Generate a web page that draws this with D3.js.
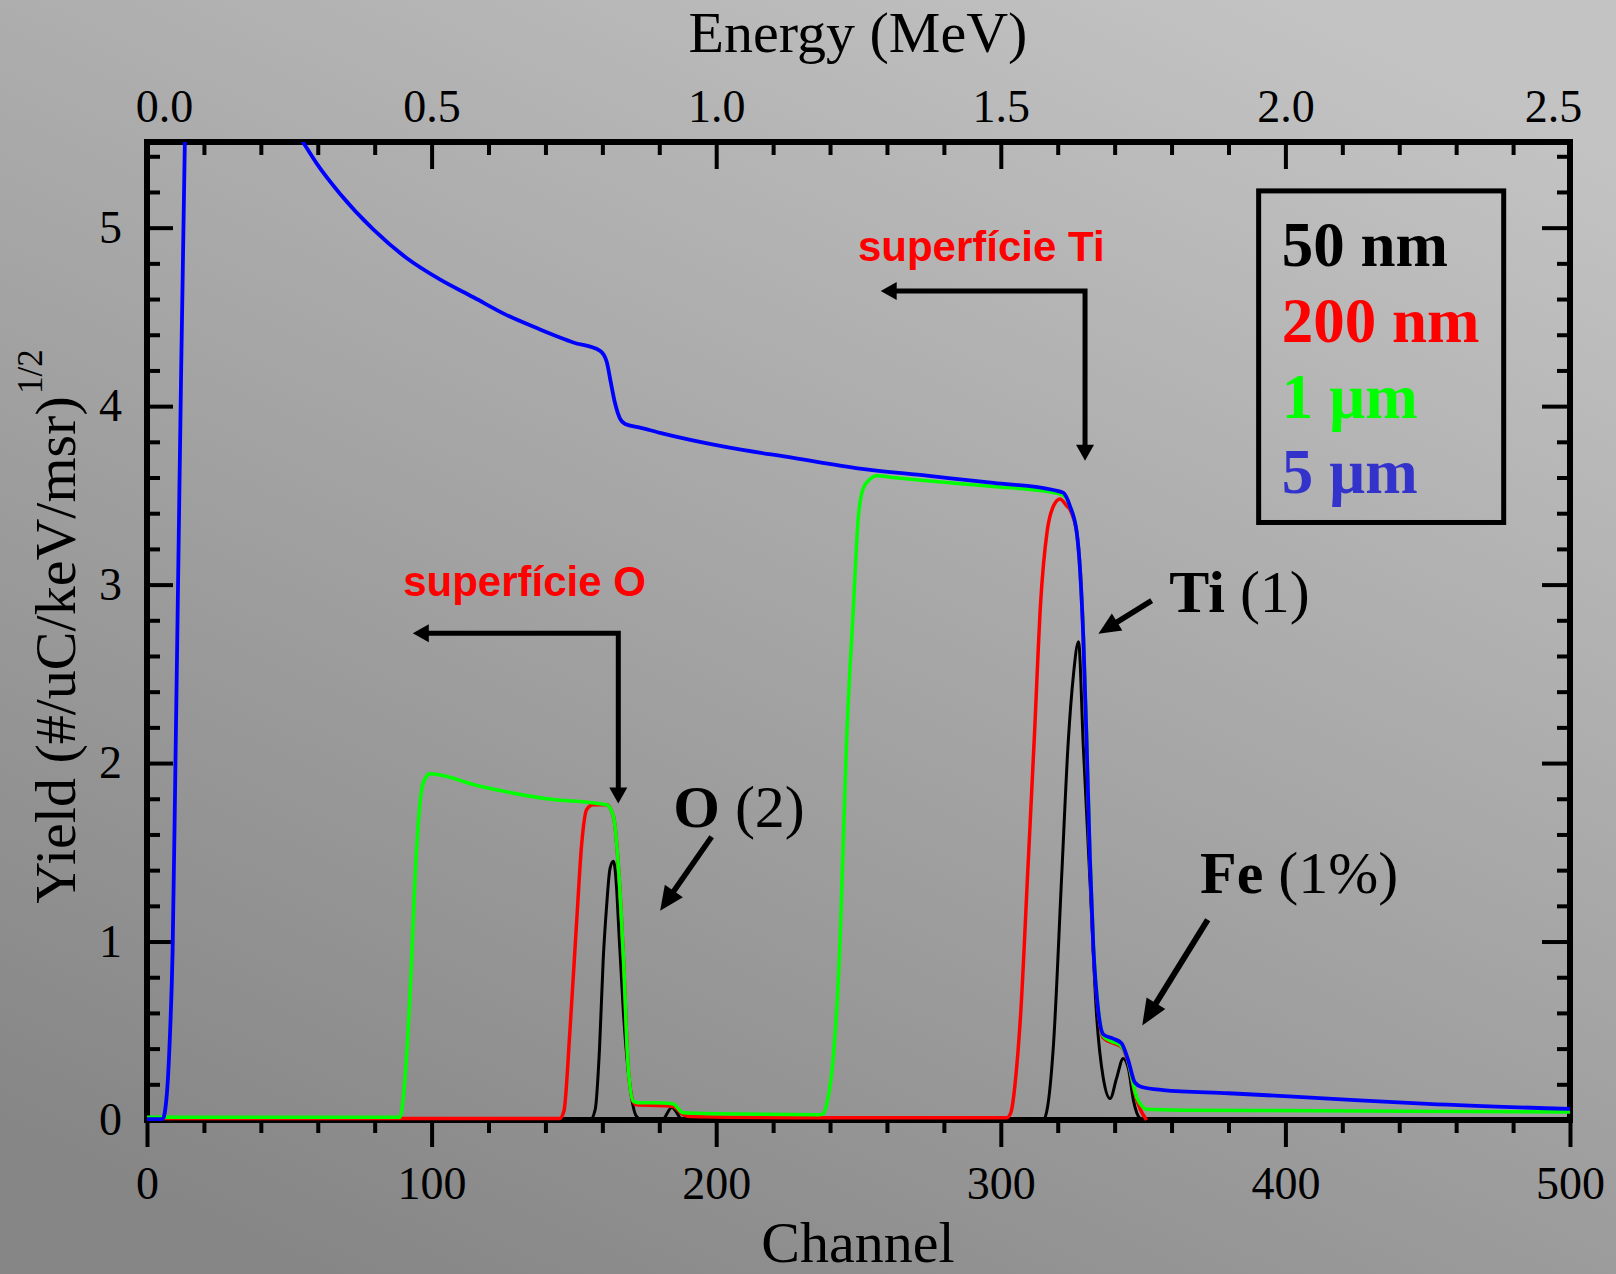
<!DOCTYPE html>
<html><head><meta charset="utf-8">
<script src="https://cdn.jsdelivr.net/npm/d3@7"></script>
<style>html,body{margin:0;padding:0;overflow:hidden;background:#a8a8a8}svg{display:block}</style>
</head><body><svg id="c" width="1616" height="1274"></svg>
<script>
// ---------- data ----------
const channelTicks = [0, 100, 200, 300, 400, 500];
const energyTicks = [0.0, 0.5, 1.0, 1.5, 2.0, 2.5];
const yieldTicks = [0, 1, 2, 3, 4, 5];
const legendLabels = ["50 nm", "200 nm", "1 \u00b5m", "5 \u00b5m"];
const lineColors = ["#000000", "#ff0000", "#00ff00", "#0000ff"];
const legendColors = ["#000000", "#ff0000", "#00ff00", "#3333cc"];

// [channel, yield]
const series50nm = [[0,0],[150,0],[155.7,0],[157.5,0.06],[159,0.4],[160.3,0.9],[161.5,1.2],[162.7,1.41],[163.9,1.45],[165,1.3],[165.6,1.12],[167.4,0.6],[169.7,0.19],[172,0.02],[174,0],[181,0],[184.4,0.07],[188.3,0],[200,0],[314.9,0],[316.5,0.08],[318.5,0.42],[321.4,1.37],[323.7,2.12],[325.5,2.49],[327.3,2.68],[329,2.09],[331.3,1.35],[333.6,0.6],[336,0.235],[338.4,0.12],[340.7,0.235],[343,0.345],[344.8,0.29],[346.6,0.11],[348.9,0.01],[351,0]];
const series200nm = [[0,0.008],[145,0.008],[146.5,0.05],[148.6,0.5],[151,1.12],[152.7,1.54],[154.5,1.74],[156.8,1.766],[161.5,1.766],[163.9,1.70],[165.6,1.43],[167.4,0.91],[169.1,0.29],[170.9,0.1],[172,0.085],[181.4,0.08],[184.9,0.075],[188.4,0.03],[190.8,0.02],[240,0.012],[302,0.012],[303.5,0.04],[305.6,0.3],[307,0.6],[309.5,1.4],[311.8,2.15],[314,2.9],[316.3,3.3],[318.5,3.44],[320.8,3.48],[323.2,3.44],[324.3,3.42],[326.7,3.29],[327.9,3.07],[329,2.70],[330.2,2.09],[331.3,1.47],[332.5,0.975],[334.3,0.6],[336,0.46],[339.5,0.43],[342.4,0.41],[344.8,0.32],[347.1,0.15],[349,0.06],[351.2,0]];
const series1um = [[0,0.015],[88.9,0.015],[90.5,0.2],[92.4,0.7],[94.8,1.54],[96.5,1.85],[98,1.92],[99.4,1.94],[117,1.87],[140.4,1.80],[161.5,1.766],[163.9,1.70],[165.6,1.43],[167.4,0.91],[169.1,0.29],[170.9,0.105],[172.5,0.097],[181.4,0.095],[184.9,0.09],[188.4,0.04],[199,0.035],[236.5,0.03],[237.6,0.035],[239,0.1],[241.2,0.36],[243.5,0.99],[245.8,2.12],[248.2,2.87],[249.9,3.37],[251.7,3.54],[254,3.59],[256.4,3.61],[262.2,3.60],[275,3.58],[297.4,3.55],[318.5,3.516],[321.9,3.5],[324.3,3.44],[326.7,3.29],[327.9,3.07],[329,2.72],[330.2,2.12],[331.3,1.5],[332.5,1.0],[334.3,0.62],[336,0.47],[339,0.44],[341.9,0.42],[344.2,0.36],[347.7,0.13],[349.5,0.08],[351.2,0.06],[363,0.055],[412,0.052],[500,0.045]];
const series5um = [[0,0.005],[5.5,0.005],[7,0.15],[8,0.45],[9,0.95],[10,2.0],[11,3.1],[12,4.2],[13.3,5.48],[14,6.3],[18,7.0],[25,6.7],[35,6.1],[45,5.72],[54.4,5.49],[59.6,5.36],[67.8,5.19],[79.5,4.99],[91.2,4.83],[102.9,4.71],[114.7,4.61],[126.4,4.51],[138.1,4.43],[145.1,4.385],[149.8,4.357],[159.2,4.31],[161.5,4.25],[163,4.13],[164.4,4.02],[166.2,3.93],[168,3.9],[173.2,3.88],[180.3,3.85],[203.7,3.77],[227.1,3.71],[250.5,3.65],[274,3.61],[297.4,3.57],[318.5,3.53],[321.9,3.515],[324.3,3.44],[326.7,3.29],[327.9,3.07],[329,2.70],[330.2,2.09],[331.3,1.47],[332.5,0.975],[334.3,0.605],[336,0.48],[339.5,0.456],[342.4,0.43],[344.8,0.333],[347.1,0.21],[349.5,0.185],[357,0.168],[380,0.15],[412,0.123],[450,0.09],[500,0.062]];
const allSeries = [series50nm, series200nm, series1um, series5um];

// ---------- layout ----------
const W = 1616, H = 1274;
const L = 147, R = 1570, T = 142, B = 1120;
const serif = "'Liberation Serif','Times New Roman',serif";
const sans = "'Liberation Sans',Arial,sans-serif";

const svg = d3.select("#c");
const x = d3.scaleLinear().domain([0, 500]).range([L, R]);
const xE = d3.scaleLinear().domain([0, 2.5]).range([L, R]);
const y = d3.scaleLinear().domain([0, 5.48]).range([B, T]);

const defs = svg.append("defs");
const grad = defs.append("linearGradient").attr("id", "bg")
  .attr("x1", 0.8).attr("y1", 0).attr("x2", 0.2).attr("y2", 1);
grad.append("stop").attr("offset", 0).attr("stop-color", "#c3c3c3");
grad.append("stop").attr("offset", 1).attr("stop-color", "#868686");
defs.append("clipPath").attr("id", "clip").append("rect")
  .attr("x", L).attr("y", T).attr("width", R - L).attr("height", B - T + 4);

svg.append("rect").attr("width", W).attr("height", H).attr("fill", "url(#bg)");

function styleAxis(g, fs) {
  g.select(".domain").remove();
  g.selectAll(".tick line").attr("stroke", "#000").attr("stroke-width", 4);
  g.selectAll(".tick text").attr("fill", "#000").style("font-family", serif).style("font-size", fs + "px");
}
const minorOf = (arr, majors) => arr.filter(v => !majors.some(m => Math.abs(m - v) < 1e-9));

// bottom
svg.append("g").attr("transform", `translate(0,${B})`)
  .call(d3.axisBottom(x).tickValues(channelTicks).tickSize(27).tickPadding(19).tickFormat(d3.format("d")))
  .call(g => styleAxis(g, 46));
svg.append("g").attr("transform", `translate(0,${B})`)
  .call(d3.axisBottom(x).tickValues(minorOf(d3.range(0, 501, 20), channelTicks)).tickSize(13).tickFormat(""))
  .call(g => styleAxis(g, 46));
// top
const topAx = svg.append("g").attr("transform", `translate(0,${T})`)
  .call(d3.axisTop(xE).tickValues(energyTicks).tickSize(-27).tickPadding(20).tickFormat(d3.format(".1f")))
  .call(g => styleAxis(g, 46));
topAx.selectAll(".tick text").attr("dx", (d, i) => i === 0 ? 17 : (i === energyTicks.length - 1 ? -17 : 0));
svg.append("g").attr("transform", `translate(0,${T})`)
  .call(d3.axisTop(xE).tickValues(minorOf(d3.range(0, 2.501, 0.1).map(v => +v.toFixed(1)), energyTicks)).tickSize(-13).tickFormat(""))
  .call(g => styleAxis(g, 46));
// left
svg.append("g").attr("transform", `translate(${L},0)`)
  .call(d3.axisLeft(y).tickValues(yieldTicks).tickSize(-26).tickPadding(25).tickFormat(d3.format("d")))
  .call(g => styleAxis(g, 46));
svg.append("g").attr("transform", `translate(${L},0)`)
  .call(d3.axisLeft(y).tickValues(minorOf(d3.range(0, 5.41, 0.2).map(v => +v.toFixed(1)), yieldTicks)).tickSize(-13).tickFormat(""))
  .call(g => styleAxis(g, 46));
// right
svg.append("g").attr("transform", `translate(${R},0)`)
  .call(d3.axisRight(y).tickValues(yieldTicks).tickSize(-28).tickFormat(""))
  .call(g => styleAxis(g, 46));
svg.append("g").attr("transform", `translate(${R},0)`)
  .call(d3.axisRight(y).tickValues(minorOf(d3.range(0, 5.41, 0.2).map(v => +v.toFixed(1)), yieldTicks)).tickSize(-13).tickFormat(""))
  .call(g => styleAxis(g, 46));

// frame
svg.append("rect").attr("x", L).attr("y", T).attr("width", R - L).attr("height", B - T)
  .attr("fill", "none").attr("stroke", "#000").attr("stroke-width", 6);

// axis titles
svg.append("text").attr("x", 858).attr("y", 52).attr("text-anchor", "middle")
  .style("font-family", serif).style("font-size", "58px").text("Energy (MeV)");
svg.append("text").attr("x", 858).attr("y", 1262).attr("text-anchor", "middle")
  .style("font-family", serif).style("font-size", "58px").text("Channel");
svg.append("text").attr("transform", "translate(75,650) rotate(-90)").attr("text-anchor", "middle")
  .style("font-family", serif).style("font-size", "58px").text("Yield (#/uC/keV/msr)");
svg.append("text").attr("transform", "translate(42,394) rotate(-90)").attr("text-anchor", "start")
  .style("font-family", serif).style("font-size", "35px").text("1/2");

// curves
const line = d3.line().x(d => x(d[0])).y(d => y(d[1])).curve(d3.curveMonotoneX);
const widths = [3, 3.5, 3.5, 3.8];
svg.append("g").attr("clip-path", "url(#clip)").selectAll("path").data(allSeries).join("path")
  .attr("d", line).attr("fill", "none")
  .attr("stroke", (d, i) => lineColors[i]).attr("stroke-width", (d, i) => widths[i])
  .attr("stroke-linejoin", "round");

// annotations
const ann = svg.append("g");
function head(x2, y2, ux, uy, len, wid) {
  const bx = x2 - ux * len, by = y2 - uy * len;
  const px = -uy, py = ux;
  ann.append("path").attr("d", `M${x2},${y2}L${bx + px * wid / 2},${by + py * wid / 2}L${bx - px * wid / 2},${by - py * wid / 2}Z`).attr("fill", "#000");
  return [bx + ux * 2, by + uy * 2];
}
function arrow(c1, v1, c2, v2, len, wid, sw) {
  const x1 = x(c1), y1 = y(v1), x2 = x(c2), y2 = y(v2);
  const dx = x2 - x1, dy = y2 - y1, n = Math.hypot(dx, dy);
  const [bx, by] = head(x2, y2, dx / n, dy / n, len, wid);
  ann.append("line").attr("x1", x1).attr("y1", y1).attr("x2", bx).attr("y2", by)
    .attr("stroke", "#000").attr("stroke-width", sw);
}
function elbow(cCorner, vCorner, cLeft, vDown) {
  const xc = x(cCorner), yc = y(vCorner), xl = x(cLeft), yd = y(vDown);
  const [lbx] = head(xl, yc, -1, 0, 16, 18);
  const [, dby] = head(xc, yd, 0, 1, 16, 18);
  ann.append("path").attr("d", `M${lbx},${yc}L${xc},${yc}L${xc},${dby}`)
    .attr("fill", "none").attr("stroke", "#000").attr("stroke-width", 5).attr("stroke-linejoin", "miter");
}
elbow(329.6, 4.645, 257.8, 3.694);
elbow(165.6, 2.728, 93.4, 1.774);
arrow(198.4, 1.587, 180.3, 1.173, 24, 22, 5.5);
arrow(353.0, 2.910, 334.3, 2.725, 22, 20, 5.5);
arrow(372.7, 1.122, 349.7, 0.530, 26, 22, 6);

ann.append("text").attr("x", x(249.8)).attr("y", y(4.815)).attr("fill", "#ff0000")
  .style("font-family", sans).style("font-weight", "bold").style("font-size", "42px").text("superfície Ti");
ann.append("text").attr("x", x(90.0)).attr("y", y(2.936)).attr("fill", "#ff0000")
  .style("font-family", sans).style("font-weight", "bold").style("font-size", "42px").text("superfície O");

function label(c, v, bold, rest) {
  const t = ann.append("text").attr("x", x(c)).attr("y", y(v))
    .style("font-family", serif).style("font-size", "60px").attr("fill", "#000");
  t.append("tspan").style("font-weight", "bold").text(bold);
  t.append("tspan").text(rest);
}
label(184.9, 1.639, "O", " (2)");
label(359.2, 2.849, "Ti", " (1)");
label(370.0, 1.270, "Fe", " (1%)");

// legend
svg.append("rect").attr("x", x(390.6)).attr("y", y(5.206))
  .attr("width", x(476.7) - x(390.6)).attr("height", y(3.348) - y(5.206))
  .attr("fill", "none").attr("stroke", "#000").attr("stroke-width", 5);
const legendBase = [4.785, 4.361, 3.932, 3.512];
svg.append("g").selectAll("text").data(legendLabels).join("text")
  .attr("x", x(398.7)).attr("y", (d, i) => y(legendBase[i]))
  .attr("fill", (d, i) => legendColors[i])
  .style("font-family", serif).style("font-weight", "bold").style("font-size", "63px")
  .text(d => d);
</script></body></html>
